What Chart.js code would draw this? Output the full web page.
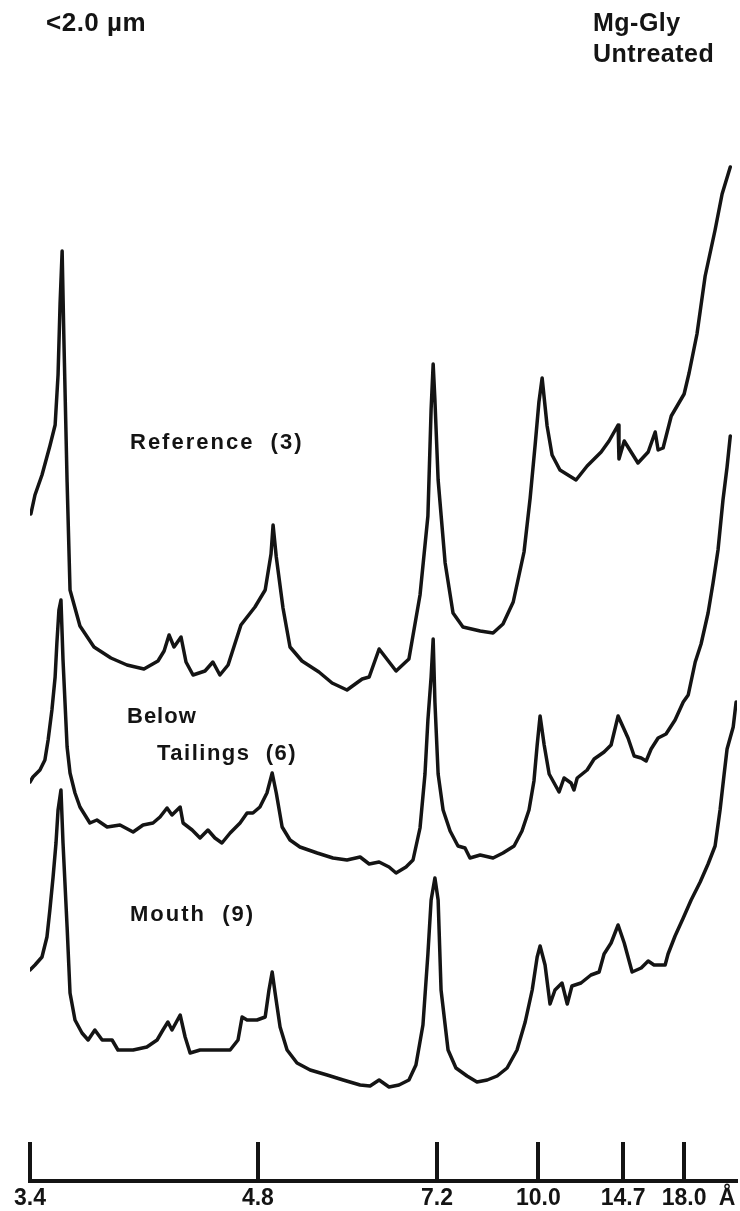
<!DOCTYPE html>
<html><head><meta charset="utf-8">
<script src="https://cdn.jsdelivr.net/npm/chart.js@4.4.1/dist/chart.umd.min.js"></script>
<style>html,body{margin:0;padding:0;background:#fff}</style>
</head><body>
<canvas id="c" width="740" height="1211"></canvas>
<script>
// X axis: degrees 2-theta (chart runs from high angle at left to low angle at right)
const tickLabels = ['3.4', '4.8', '7.2', '10.0', '14.7', '18.0'];
const tickTwoTheta = [26.20, 18.40, 12.27, 8.80, 5.90, 3.81];
const unitLabel = 'Å';
const unitTwoTheta = 2.34;

// Reference [3]
const referenceTwoTheta = [26.17,26.03,25.79,25.52,25.34,25.24,25.17,25.10,25.04,24.93,24.83,24.49,24.01,23.43,22.88,22.30,21.82,21.61,21.44,21.27,21.03,20.86,20.62,20.21,19.94,19.70,19.42,18.98,18.50,18.15,17.95,17.88,17.77,17.54,17.30,16.89,16.31,15.86,15.35,14.83,14.59,14.25,13.67,13.23,12.85,12.58,12.47,12.40,12.34,12.23,11.99,11.72,11.38,10.79,10.35,10.01,9.66,9.29,9.08,8.91,8.78,8.67,8.50,8.33,8.06,7.51,7.13,6.65,6.38,6.07,6.04,5.86,5.39,5.04,4.80,4.70,4.53,4.25,3.81,3.64,3.37,3.09,2.75,2.51,2.23];
const referenceIntensity = [66.7,68.6,70.6,73.5,75.6,80.6,87.8,93.0,84.2,69.9,59.1,55.5,53.4,52.3,51.6,51.2,52.0,53.0,54.6,53.4,54.4,51.9,50.6,51.0,51.9,50.6,51.6,55.6,57.4,59.1,62.7,65.6,62.4,57.3,53.4,52.0,50.9,49.8,49.1,50.2,50.4,53.2,51.0,52.2,58.6,66.5,77.2,81.7,78.1,70.1,61.8,56.8,55.4,55.0,54.8,55.7,57.9,62.9,68.3,73.6,77.9,80.3,75.5,72.6,71.1,70.1,71.5,72.9,74.0,75.6,72.2,74.0,71.8,72.9,74.9,73.1,73.3,76.5,78.7,80.8,84.7,90.5,95.1,98.7,101.4];

// Below Tailings [6]
const belowTwoTheta = [26.20,26.10,25.86,25.69,25.58,25.45,25.34,25.28,25.21,25.14,25.07,24.93,24.83,24.66,24.49,24.15,23.91,23.56,23.12,22.67,22.33,21.99,21.75,21.51,21.34,21.06,20.96,20.65,20.38,20.11,19.87,19.63,19.35,19.01,18.77,18.57,18.33,18.09,17.91,17.77,17.57,17.30,16.96,16.37,15.83,15.35,14.90,14.59,14.25,13.91,13.67,13.33,13.09,12.85,12.68,12.58,12.47,12.40,12.34,12.23,12.06,11.82,11.55,11.31,11.14,10.79,10.35,10.01,9.63,9.36,9.12,8.95,8.84,8.74,8.60,8.43,8.26,8.09,7.92,7.68,7.58,7.47,7.13,6.89,6.55,6.31,6.07,5.90,5.73,5.52,5.28,5.11,4.94,4.70,4.43,4.12,3.84,3.67,3.43,3.23,2.99,2.82,2.65,2.48,2.34,2.23];
const belowIntensity = [39.9,40.4,41.1,42.1,44.1,47.1,50.4,53.8,57.1,58.1,52.1,43.4,40.8,38.8,37.4,35.8,36.1,35.4,35.6,34.9,35.6,35.8,36.4,37.3,36.6,37.4,35.8,35.1,34.3,35.1,34.3,33.8,34.8,35.8,36.8,36.8,37.4,38.8,40.8,38.8,35.4,34.1,33.4,32.8,32.3,32.1,32.4,31.7,31.9,31.4,30.8,31.4,32.1,35.3,40.7,46.1,50.4,54.2,47.9,40.7,37.1,35.0,33.5,33.3,32.3,32.6,32.3,32.8,33.5,35.0,37.1,40.0,43.6,46.5,43.6,40.7,39.8,38.9,40.3,39.8,39.1,40.3,41.1,42.2,42.9,43.6,46.5,45.4,44.3,42.5,42.3,42.0,43.2,44.3,44.7,46.1,47.9,48.6,51.9,53.7,56.8,59.8,63.1,68.1,71.4,74.5];

// Mouth [9]
const mouthTwoTheta = [26.20,26.03,25.79,25.62,25.52,25.41,25.31,25.24,25.14,25.07,24.93,24.83,24.66,24.42,24.21,23.98,23.73,23.39,23.19,22.67,22.20,21.85,21.65,21.48,21.34,21.06,20.89,20.72,20.38,20.04,19.70,19.35,19.08,18.94,18.77,18.43,18.15,18.02,17.91,17.81,17.64,17.40,17.06,16.61,16.03,15.48,14.90,14.56,14.25,13.91,13.57,13.23,12.99,12.75,12.58,12.47,12.34,12.23,12.13,11.89,11.62,11.24,10.90,10.55,10.21,9.87,9.53,9.25,9.01,8.84,8.74,8.57,8.40,8.23,7.99,7.81,7.65,7.34,7.00,6.72,6.55,6.31,6.07,5.86,5.59,5.28,5.04,4.84,4.46,4.36,4.12,3.84,3.57,3.26,2.99,2.75,2.58,2.44,2.34,2.13,2.03];
const mouthIntensity = [21.1,21.6,22.4,24.4,27.1,30.4,33.8,37.1,39.1,33.8,25.4,18.8,16.1,14.8,14.1,15.1,14.1,14.1,13.1,13.1,13.4,14.1,15.1,15.9,15.1,16.6,14.4,12.8,13.1,13.1,13.1,13.1,14.1,16.4,16.1,16.1,16.4,19.1,20.9,18.8,15.4,13.1,11.8,11.1,10.6,10.1,9.6,9.5,10.1,9.4,9.6,10.1,11.6,15.6,22.7,28.1,30.3,28.1,19.1,13.1,11.3,10.5,9.9,10.1,10.5,11.3,13.1,15.9,19.1,22.4,23.5,21.6,17.7,19.1,19.8,17.7,19.5,19.8,20.6,20.9,22.7,23.8,25.6,23.8,20.9,21.3,22.0,21.6,21.6,22.7,24.5,26.3,28.1,29.9,31.7,33.5,37.1,40.7,43.2,45.4,47.9];

const seriesNames = ['Reference (3)', 'Below Tailings (6)', 'Mouth (9)'];
const seriesTwoTheta = [referenceTwoTheta, belowTwoTheta, mouthTwoTheta];
const seriesIntensity = [referenceIntensity, belowIntensity, mouthIntensity];

const INK = '#141414';
const FONT = '"Liberation Sans", Arial, Helvetica, sans-serif';

const textItems = [
  {text: '<2.0 µm', x: 46, y: 24, size: 26, spacing: 0.5},
  {text: 'Mg-Gly', x: 593, y: 24, size: 25, spacing: 0.5},
  {text: 'Untreated', x: 593, y: 55, size: 25, spacing: 0.5},
  {text: 'Reference  (3)', x: 130, y: 443, size: 22, spacing: 2},
  {text: 'Below', x: 127, y: 717, size: 22, spacing: 1},
  {text: 'Tailings  (6)', x: 157, y: 754, size: 22, spacing: 1.5},
  {text: 'Mouth  (9)', x: 130, y: 915, size: 22, spacing: 2}
];

const annotations = {
  id: 'annotations',
  afterDatasetsDraw(chart) {
    const ctx = chart.ctx;
    const xs = chart.scales.x;
    const bottom = chart.chartArea.bottom;
    ctx.save();
    // upward tick marks on the axis
    ctx.strokeStyle = INK;
    ctx.lineWidth = 4;
    ctx.lineCap = 'butt';
    tickTwoTheta.forEach(v => {
      const px = Math.round(xs.getPixelForValue(v));
      ctx.beginPath();
      ctx.moveTo(px, bottom);
      ctx.lineTo(px, bottom - 39);
      ctx.stroke();
    });
    // text
    ctx.fillStyle = INK;
    ctx.textBaseline = 'middle';
    ctx.textAlign = 'left';
    textItems.forEach(t => {
      ctx.font = 'bold ' + t.size + 'px ' + FONT;
      ctx.letterSpacing = t.spacing + 'px';
      ctx.fillText(t.text, t.x, t.y);
    });
    ctx.restore();
  }
};

const datasets = seriesNames.map((name, i) => ({
  label: name,
  data: seriesTwoTheta[i].map((t, j) => ({x: t, y: seriesIntensity[i][j]})),
  borderColor: INK,
  borderWidth: 3.5,
  pointRadius: 0,
  tension: 0,
  fill: false,
  borderJoinStyle: 'round',
  borderCapStyle: 'round'
}));

new Chart(document.getElementById('c'), {
  type: 'line',
  data: {datasets},
  options: {
    responsive: false,
    animation: false,
    layout: {padding: {left: 30, right: 3, top: 0, bottom: 0}},
    plugins: {legend: {display: false}, tooltip: {enabled: false}, title: {display: false}},
    scales: {
      x: {
        type: 'linear',
        reverse: true,
        min: 2.0,
        max: 26.2,
        grid: {display: false, drawTicks: false},
        border: {display: true, color: INK, width: 4},
        afterBuildTicks(scale) {
          scale.ticks = tickTwoTheta.map(v => ({value: v})).concat([{value: unitTwoTheta}]);
        },
        afterFit(scale) { scale.height = 30; },
        ticks: {
          autoSkip: false,
          maxRotation: 0,
          padding: 4,
          color: INK,
          font: {family: FONT, weight: 'bold', size: 23},
          callback(value) {
            const i = tickTwoTheta.indexOf(value);
            return i >= 0 ? tickLabels[i] : unitLabel;
          }
        }
      },
      y: {
        type: 'linear',
        display: false,
        min: 0,
        max: 118.1
      }
    }
  },
  plugins: [annotations]
});
</script>
</body></html>
